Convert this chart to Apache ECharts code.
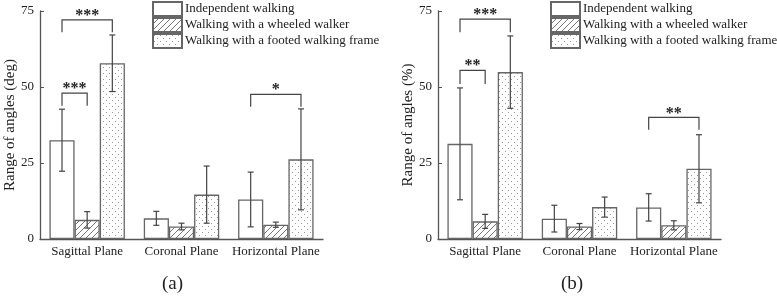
<!DOCTYPE html>
<html>
<head>
<meta charset="utf-8">
<script src="https://cdn.jsdelivr.net/npm/echarts@6/dist/echarts.min.js"></script>
<style>html,body{margin:0;padding:0;background:#fff}#c{width:777px;height:296px}</style>
</head>
<body>
<div id="c"></div>
<script>
const categories = ['Sagittal Plane', 'Coronal Plane', 'Horizontal Plane'];
const seriesNames = ['Independent walking', 'Walking with a wheeled walker', 'Walking with a footed walking frame'];
const yTicks = [0, 25, 50, 75];

// (a) degrees
const degIndependent = [32.5, 6.8, 13.0];
const degIndependentErr = [10.2, 2.3, 9.0];
const degWheeled = [6.3, 4.1, 4.7];
const degWheeledErr = [2.7, 1.1, 0.85];
const degFooted = [57.8, 14.6, 26.2];
const degFootedErr = [9.3, 9.4, 16.6];

// (b) percent
const pctIndependent = [31.3, 6.7, 10.4];
const pctIndependentErr = [18.4, 4.4, 4.5];
const pctWheeled = [5.8, 4.1, 4.5];
const pctWheeledErr = [2.3, 1.0, 1.5];
const pctFooted = [54.9, 10.5, 23.1];
const pctFootedErr = [11.9, 3.3, 11.2];

// significance brackets: category, from series, to series, top value, leg bottom value, label
const sigDegCat = [0, 0, 2];
const sigDegFrom = [0, 0, 0];
const sigDegTo = [2, 1, 2];
const sigDegTop = [72.1, 48.0, 47.6];
const sigDegLeg = [68.0, 43.8, 43.5];
const sigDegLabel = ['***', '***', '*'];

const sigPctCat = [0, 0, 2];
const sigPctFrom = [0, 0, 0];
const sigPctTo = [2, 1, 2];
const sigPctTop = [72.3, 55.5, 40.0];
const sigPctLeg = [68.0, 51.0, 35.9];
const sigPctLabel = ['***', '**', '**'];

const FONT = '"Liberation Serif", "DejaVu Serif", serif';
const EDGE = '#666';

function hatchPattern() {
  const c = document.createElement('canvas');
  c.width = 6; c.height = 6;
  const g = c.getContext('2d');
  g.fillStyle = '#fff'; g.fillRect(0, 0, 6, 6);
  g.strokeStyle = '#777'; g.lineWidth = 1;
  g.beginPath();
  g.moveTo(-1, 7); g.lineTo(7, -1);
  g.moveTo(-1, 1); g.lineTo(1, -1);
  g.moveTo(5, 7); g.lineTo(7, 5);
  g.stroke();
  return c;
}
function dotPattern() {
  const c = document.createElement('canvas');
  c.width = 6; c.height = 6;
  const g = c.getContext('2d');
  g.fillStyle = '#fff'; g.fillRect(0, 0, 6, 6);
  g.fillStyle = '#999';
  g.fillRect(1, 1, 1, 1);
  g.fillRect(4, 4, 1, 1);
  return c;
}
const fills = ['#fff', { image: hatchPattern(), repeat: 'repeat' }, { image: dotPattern(), repeat: 'repeat' }];

const chart = echarts.init(document.getElementById('c'), null, { renderer: 'canvas' });

function barSeries(gi, k, values) {
  return {
    type: 'bar', name: seriesNames[k], xAxisIndex: gi, yAxisIndex: gi,
    data: values, barGap: '0%', barCategoryGap: '20%',
    itemStyle: { color: fills[k], borderColor: EDGE, borderWidth: 1.3 },
    emphasis: { disabled: true }, silent: true, z: 2
  };
}

function errSeries(gi, means, errs) {
  const data = [];
  for (let k = 0; k < 3; k++) for (let i = 0; i < categories.length; i++) data.push([i, means[k][i], errs[k][i], k]);
  return {
    type: 'custom', xAxisIndex: gi, yAxisIndex: gi, silent: true, z: 5,
    data: data,
    renderItem: function (params, api) {
      const cat = api.value(0), v = api.value(1), e = api.value(2), k = api.value(3);
      const band = api.size([1, 0])[0];
      const bw = band * 0.8 / 3;
      const x = api.coord([cat, 0])[0] + (k - 1) * bw;
      const yt = api.coord([cat, v + e])[1];
      const yb = api.coord([cat, v - e])[1];
      const cw = 3;
      const st = { stroke: '#444', lineWidth: 1.2, fill: null };
      return { type: 'group', children: [
        { type: 'line', shape: { x1: x, y1: yt, x2: x, y2: yb }, style: st },
        { type: 'line', shape: { x1: x - cw, y1: yt, x2: x + cw, y2: yt }, style: st },
        { type: 'line', shape: { x1: x - cw, y1: yb, x2: x + cw, y2: yb }, style: st }
      ] };
    }
  };
}

function sigSeries(gi, cats, froms, tos, tops, legs, labels) {
  const data = cats.map((c, i) => [c, froms[i], tos[i], tops[i], legs[i], i]);
  return {
    type: 'custom', xAxisIndex: gi, yAxisIndex: gi, silent: true, z: 6,
    data: data,
    renderItem: function (params, api) {
      const cat = api.value(0), f = api.value(1), t = api.value(2), top = api.value(3), leg = api.value(4), idx = api.value(5);
      const band = api.size([1, 0])[0];
      const bw = band * 0.8 / 3;
      const cx = api.coord([cat, 0])[0];
      const x1 = cx + (f - 1) * bw, x2 = cx + (t - 1) * bw;
      const yT = api.coord([cat, top])[1], yL = api.coord([cat, leg])[1];
      return { type: 'group', children: [
        { type: 'polyline', shape: { points: [[x1, yL], [x1, yT], [x2, yT], [x2, yL]] }, style: { stroke: '#444', lineWidth: 1.2, fill: null } },
        { type: 'text', style: { text: labels[idx], x: (x1 + x2) / 2, y: yT - 4, textAlign: 'center', textVerticalAlign: 'middle', font: 'bold 16px ' + FONT, fill: '#222' } }
      ] };
    }
  };
}

function xAxis(gi) {
  return {
    type: 'category', gridIndex: gi, data: categories,
    axisLine: { lineStyle: { color: '#555', width: 1.3 } },
    axisTick: { show: false },
    axisLabel: { fontFamily: FONT, fontSize: 13, color: '#222', margin: 6, interval: 0 }
  };
}
function yAxis(gi, title) {
  return {
    type: 'value', gridIndex: gi, min: yTicks[0], max: yTicks[yTicks.length - 1], interval: 25,
    name: title, nameLocation: 'middle', nameGap: 20,
    nameTextStyle: { fontFamily: FONT, fontSize: 15, color: '#222' },
    axisLine: { show: true, lineStyle: { color: '#555', width: 1.3 } },
    axisTick: { show: true, inside: true, length: 4, lineStyle: { color: '#555' } },
    axisLabel: { fontFamily: FONT, fontSize: 13, color: '#222', margin: 6 },
    splitLine: { show: false }
  };
}
function legend(left) {
  return {
    left: left, top: -4, orient: 'vertical', itemWidth: 29, itemHeight: 14, itemGap: 0,
    icon: 'rect', selectedMode: false,
    textStyle: { fontFamily: FONT, fontSize: 13, lineHeight: 14, color: '#222', padding: [0, 0, 0, -2] },
    data: seriesNames
  };
}

chart.setOption({
  animation: false,
  backgroundColor: '#fff',
  grid: [
    { left: 40, right: 454, top: 11, bottom: 57 },
    { left: 438, right: 56, top: 11, bottom: 57 }
  ],
  xAxis: [xAxis(0), xAxis(1)],
  yAxis: [yAxis(0, 'Range of angles (deg)'), yAxis(1, 'Range of angles (%)')],
  legend: [legend(147), legend(545)],
  graphic: [
    { type: 'text', left: 162, top: 275, style: { text: '(a)', font: '19px ' + FONT, fill: '#222' } },
    { type: 'text', left: 561, top: 275, style: { text: '(b)', font: '19px ' + FONT, fill: '#222' } }
  ],
  series: [
    barSeries(0, 0, degIndependent), barSeries(0, 1, degWheeled), barSeries(0, 2, degFooted),
    barSeries(1, 0, pctIndependent), barSeries(1, 1, pctWheeled), barSeries(1, 2, pctFooted),
    errSeries(0, [degIndependent, degWheeled, degFooted], [degIndependentErr, degWheeledErr, degFootedErr]),
    errSeries(1, [pctIndependent, pctWheeled, pctFooted], [pctIndependentErr, pctWheeledErr, pctFootedErr]),
    sigSeries(0, sigDegCat, sigDegFrom, sigDegTo, sigDegTop, sigDegLeg, sigDegLabel),
    sigSeries(1, sigPctCat, sigPctFrom, sigPctTo, sigPctTop, sigPctLeg, sigPctLabel)
  ]
});
</script>
</body>
</html>
